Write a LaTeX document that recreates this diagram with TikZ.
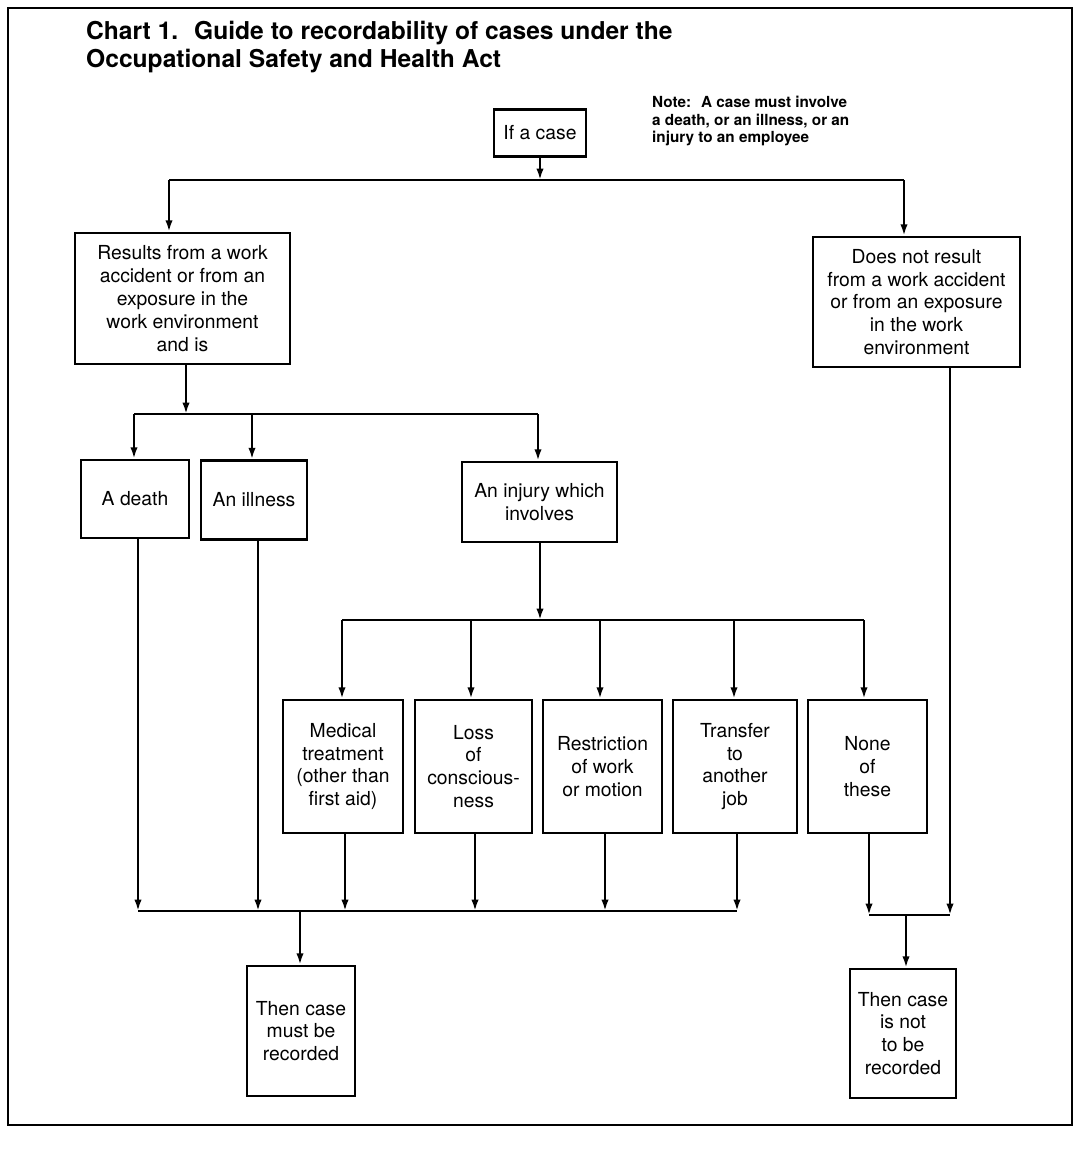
\documentclass[tikz,border=0pt]{standalone}
\usepackage{fontspec}
\setmainfont{TeX Gyre Heros}
\usepackage{tikz}
\usetikzlibrary{arrows.meta,positioning}

\begin{document}
\begin{tikzpicture}[x=0.02cm,y=-0.02cm,
  every node/.style={font=\fontsize{11}{13}\selectfont},
  box/.style={draw,line width=1.5pt,align=center,inner sep=0pt},
  link/.style={line width=1.25pt},
  arr/.style={link,-{Latex[length=6.5pt,width=4.2pt]}}]
  \useasboundingbox (0,0) rectangle (1077,1152);
  \draw[line width=1.1pt] (8,8) rectangle (1072,1125);
  % heading and note
  \node[anchor=west,align=left,font=\fontsize{14}{15.6}\bfseries\selectfont] (title) at (80,47) {Chart 1.~ Guide to recordability of cases under the\\Occupational Safety and Health Act};
  \node[anchor=west,align=left,font=\fontsize{8.7}{9.7}\bfseries\selectfont] (note) at (646,121) {Note:~ A case must involve\\a death, or an illness, or an\\injury to an employee};
  % boxes
  \node[box,minimum width=1.84cm,minimum height=0.94cm] (ifcase) at (540,133) {If a case};
  \node[box,minimum width=4.3cm,minimum height=2.62cm] (results) at (182.5,298.5) {Results from a work\\accident or from an\\exposure in the\\work environment\\and is};
  \node[box,minimum width=4.14cm,minimum height=2.6cm] (notres) at (916.5,302) {Does not result\\from a work accident\\or from an exposure\\in the work\\environment};
  \node[box,minimum width=2.16cm,minimum height=1.56cm] (death) at (135,499) {A death};
  \node[box,minimum width=2.12cm,minimum height=1.58cm] (illness) at (254,500) {An illness};
  \node[box,minimum width=3.1cm,minimum height=1.6cm] (injury) at (539.5,502) {An injury which\\involves};
  \foreach \n/\x/\w/\t in {medical/343/2.4/{Medical\\treatment\\(other than\\first aid)},
      loss/473.5/2.34/{Loss\\of\\conscious-\\ness}, restr/602.5/2.38/{Restriction\\of work\\or motion},
      transfer/735/2.48/{Transfer\\to\\another\\job}, none/867.5/2.38/{None\\of\\these}}
    \node[box,minimum width=\w cm,minimum height=2.66cm] (\n) at (\x,766.5) {\t};
  \node[box,minimum width=2.16cm,minimum height=2.6cm] (must) at (301,1031) {Then case\\must be\\recorded};
  \node[box,minimum width=2.12cm,minimum height=2.58cm] (notbe) at (903,1033.5) {Then case\\is not\\to be\\recorded};
  % first split
  \coordinate (j1) at (540,180);
  \coordinate (j1l) at (169,180);
  \coordinate (j1r) at (904,180);
  \draw[arr] (ifcase.south) -- (j1);
  \draw[link] (j1l) -- (j1r);
  \draw[arr] (j1l) -- (j1l |- results.north);
  \draw[arr] (j1r) -- (j1r |- notres.north);
  % second split
  \coordinate (j2) at (186,414);
  \coordinate (j2l) at (134,414);
  \coordinate (j2r) at (538,414);
  \draw[arr] (j2 |- results.south) -- (j2);
  \draw[link] (j2l) -- (j2r);
  \foreach \n/\c in {death/134,illness/252,injury/538}
    \draw[arr] (\c,414) -- (\c,414 |- \n.north);
  % third split
  \coordinate (j3) at (540,620);
  \coordinate (j3l) at (342,620);
  \coordinate (j3r) at (864,620);
  \draw[arr] (j3 |- injury.south) -- (j3);
  \draw[link] (j3l) -- (j3r);
  \foreach \n/\c in {medical/342,loss/471,restr/600,transfer/734,none/864}
    \draw[arr] (\c,620) -- (\c,620 |- \n.north);
  % recorded
  \coordinate (bl) at (138,911);
  \coordinate (br) at (737,911);
  \coordinate (bm) at (300,911);
  \foreach \n/\c in {death/138,illness/258,medical/345,loss/475,restr/605,transfer/737}
    \draw[arr] (\c,911 |- \n.south) -- (\c,911);
  \draw[link] (bl) -- (br);
  \draw[arr] (bm) -- (bm |- must.north);
  % not recorded
  \coordinate (cl) at (869,915);
  \coordinate (cr) at (950,915);
  \coordinate (cm) at (906,915);
  \draw[arr] (cl |- none.south) -- (cl);
  \draw[arr] (cr |- notres.south) -- (cr);
  \draw[link] (cl) -- (cr);
  \draw[arr] (cm) -- (cm |- notbe.north);
\end{tikzpicture}
\end{document}
